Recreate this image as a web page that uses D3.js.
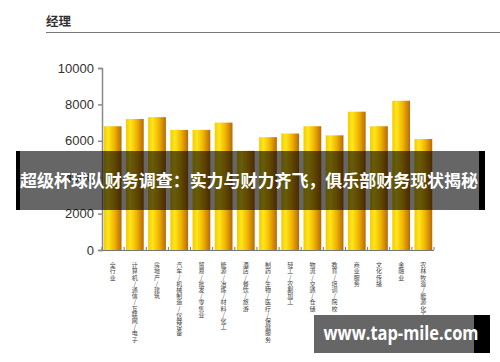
<!DOCTYPE html>
<html>
<head>
<meta charset="utf-8">
<script src="https://cdn.jsdelivr.net/npm/d3@7"></script>
<style>
  html, body { margin: 0; padding: 0; background: #fff; }
  svg { display: block; font-family: "Liberation Sans", "Noto Sans CJK SC", sans-serif; }
  .y-axis text { font-size: 13px; fill: #333; }
  .y-axis path, .y-axis line { stroke: #8a8a8a; stroke-width: 1.5; }
  .x-label { font-size: 6px; fill: #444; font-family: "Noto Sans CJK SC", sans-serif;
             writing-mode: vertical-rl; text-orientation: upright; letter-spacing: 0.2px; }
</style>
</head>
<body>
<div id="chart"></div>
<script>
// Manager salary by industry.
const categories = [
  '全行业',
  '计算机/通信/互联网/电子',
  '房地产/建筑',
  '汽车/机械制造/仪器设备',
  '贸易/批发/零售业',
  '能源/冶炼/材料/化工',
  '酒店/餐饮/旅游',
  '制药/生物/医疗/保健服务',
  '轻工/农副加工',
  '物流/交通/仓储',
  '教育/培训/院校',
  '商业服务',
  '文化传播',
  '金融业',
  '农林牧渔/能源化工',
];
const values = [6800, 7200, 7300, 6600, 6600, 7000, 5450, 6200, 6400, 6800, 6300, 7600, 6800, 8200, 6100];
const yTicks = [0, 2000, 4000, 6000, 8000, 10000];

const title = '经理';
const bannerText = '超级杯球队财务调查：实力与财力齐飞，俱乐部财务现状揭秘';
const watermark = 'www.tap-mile.com';

const W = 500, H = 362;
const svg = d3.select('#chart').append('svg').attr('width', W).attr('height', H);

// gold bar fill, bright on the left, brown on the right
const defs = svg.append('defs');
const grad = defs.append('linearGradient').attr('id', 'gold').attr('x1', 0).attr('x2', 1).attr('y1', 0).attr('y2', 0);
[['0%', '#f2cc00'], ['25%', '#ffe61a'], ['60%', '#f0b400'], ['100%', '#b8680a']].forEach(([o, c]) =>
  grad.append('stop').attr('offset', o).attr('stop-color', c));

// header
svg.append('text').attr('x', 46).attr('y', 26)
  .attr('font-size', 12.5).attr('font-weight', 'bold').attr('fill', '#333')
  .attr('font-family', '"Noto Sans CJK SC", sans-serif').text(title);
svg.append('line').attr('x1', 46).attr('x2', W).attr('y1', 32.5).attr('y2', 32.5)
  .attr('stroke', '#777').attr('stroke-width', 1);

const x = d3.scaleBand().domain(categories).range([102, 434]).paddingInner(0.2).paddingOuter(0.08);
const y = d3.scaleLinear().domain([0, 10000]).range([250, 68]);

// bars
svg.append('g').selectAll('rect')
  .data(categories)
  .join('rect')
  .attr('x', (d) => x(d))
  .attr('y', (d, i) => y(values[i]))
  .attr('width', x.bandwidth())
  .attr('height', (d, i) => y(0) - y(values[i]))
  .attr('fill', 'url(#gold)');

// y axis
svg.append('g').attr('class', 'y-axis')
  .attr('transform', 'translate(102,0)')
  .call(d3.axisLeft(y).tickValues(yTicks).tickFormat(d3.format('d')).tickSizeOuter(0).tickSize(4).tickPadding(4));

// baseline with small upward ticks at band edges
const base = svg.append('g').attr('stroke', '#777').attr('stroke-width', 1);
base.append('line').attr('x1', 102).attr('x2', 434).attr('y1', y(0) + 0.5).attr('y2', y(0) + 0.5);
base.selectAll('line.tk')
  .data(d3.range(categories.length + 1))
  .join('line')
  .attr('class', 'tk')
  .attr('x1', (i) => 102 + i * (332 / categories.length))
  .attr('x2', (i) => 102 + i * (332 / categories.length))
  .attr('y1', y(0)).attr('y2', y(0) - 3);

// vertical category labels, stacked top to bottom
svg.append('g').selectAll('text')
  .data(categories)
  .join('text')
  .attr('class', 'x-label')
  .attr('x', (d) => x(d) + x.bandwidth() / 2)
  .attr('y', 262)
  .text((d) => d);

// overlay banner
const banner = svg.append('g');
banner.append('rect').attr('x', 16).attr('y', 151).attr('width', 469).attr('height', 59).attr('fill', 'rgba(0,0,0,0.6)');
banner.append('rect').attr('x', 16).attr('y', 151).attr('width', 4).attr('height', 59).attr('fill', '#000');
banner.append('rect').attr('x', 479).attr('y', 151).attr('width', 6).attr('height', 59).attr('fill', '#000');
banner.append('text').attr('x', 249).attr('y', 187).attr('text-anchor', 'middle')
  .attr('font-size', 17).attr('font-weight', 'bold').attr('fill', '#fff')
  .attr('font-family', '"Noto Sans CJK SC", sans-serif')
  .attr('textLength', 458).attr('lengthAdjust', 'spacingAndGlyphs')
  .text(bannerText);

// watermark
const wm = svg.append('g');
wm.append('rect').attr('x', 314).attr('y', 315).attr('width', 176).attr('height', 38).attr('fill', '#666');
wm.append('rect').attr('x', 474).attr('y', 315).attr('width', 16).attr('height', 38).attr('fill', '#000');
wm.append('text').attr('x', 401).attr('y', 340).attr('text-anchor', 'middle')
  .attr('font-size', 19).attr('font-weight', 'bold').attr('fill', '#fff')
  .attr('font-family', '"Open Sans", sans-serif')
  .attr('textLength', 155).attr('lengthAdjust', 'spacingAndGlyphs')
  .text(watermark);
</script>
</body>
</html>
